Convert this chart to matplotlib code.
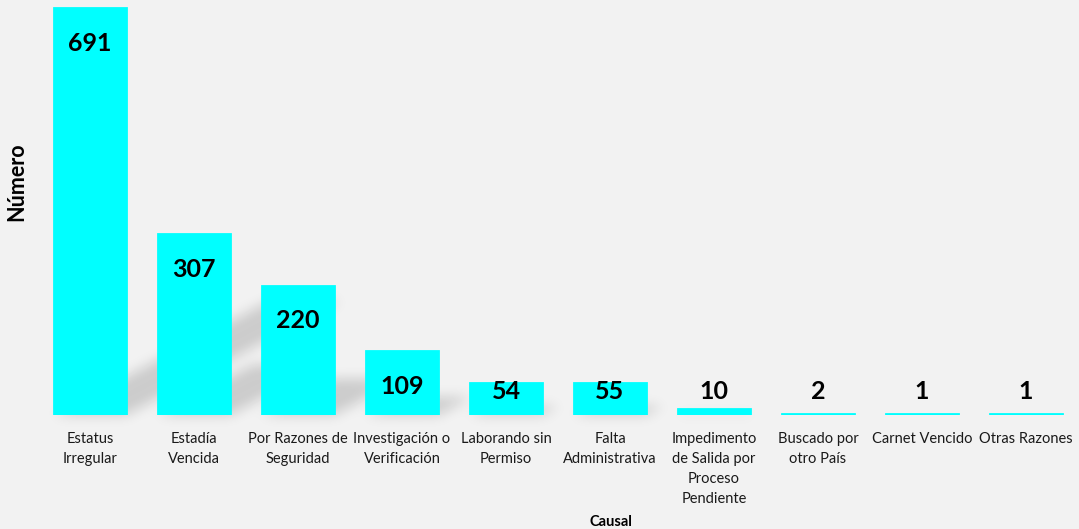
import numpy as np
import matplotlib
matplotlib.use("Agg")
import matplotlib.pyplot as plt
from matplotlib.collections import PolyCollection

plt.rcParams['font.family'] = ['Lato', 'DejaVu Sans']

categorias = ["Estatus\nIrregular", "Estadía\nVencida", "Por Razones de\nSeguridad",
              "Investigación o\nVerificación", "Laborando sin\nPermiso",
              "Falta\nAdministrativa", "Impedimento\nde Salida por\nProceso\nPendiente",
              "Buscado por\notro País", "Carnet Vencido", "Otras Razones"]
valores = [691, 307, 220, 109, 54, 55, 10, 2, 1, 1]

bg = '#F2F2F2'
cyan = '#00FFFF'


def blur_shadow(img, dpi):
  # gaussian blur on the alpha channel, drawn as a soft grey shadow
  sigma = 4.5
  r = int(3 * sigma)
  pad = r + 2
  h, w, _ = img.shape
  a = np.zeros((h + 2 * pad, w + 2 * pad))
  a[pad:pad + h, pad:pad + w] = img[..., 3]
  x = np.arange(-r, r + 1)
  k = np.exp(-x ** 2 / (2 * sigma ** 2))
  k /= k.sum()
  a = np.apply_along_axis(lambda m: np.convolve(m, k, mode='same'), 0, a)
  a = np.apply_along_axis(lambda m: np.convolve(m, k, mode='same'), 1, a)
  out = np.zeros((h + 2 * pad, w + 2 * pad, 4))
  out[..., 3] = np.clip(a, 0, 1) * 0.4
  return out, -pad, -pad


fig = plt.figure(figsize=(10.79, 5.29), dpi=100)
fig.patch.set_facecolor(bg)
ax = fig.add_axes([38 / 1079, 114 / 529, 1040 / 1079, 412 / 529])
ax.set_facecolor(bg)

xpos = np.arange(len(valores))
ancho = 0.695
ax.set_xlim(-0.5, len(valores) - 0.5)
ax.set_ylim(0, 700)

# perspective shadows (diagonal upper right)
p0 = ax.transData.transform((0, 0))
p1 = ax.transData.transform((1, 1))
sx, sy = p1[0] - p0[0], p1[1] - p0[1]
polys = []
for x, v in zip(xpos, valores):
  top = 0.28 * v
  dx = (top * sy / 0.53) / sx
  polys.append([(x - ancho / 2, 0), (x + ancho / 2, 0),
                (x + ancho / 2 + dx, top), (x - ancho / 2 + dx, top)])
sombra = PolyCollection(polys, facecolors='black', edgecolors='none', zorder=1)
sombra.set_agg_filter(blur_shadow)
ax.add_collection(sombra)

ax.bar(xpos, valores, width=ancho, color=cyan, edgecolor=cyan, linewidth=2, zorder=2)

for x, v in zip(xpos, valores):
  ax.text(x, max(v - 60, 40), str(v), ha='center', va='center',
          fontsize=18, fontweight='bold', color='black', zorder=3)

ax.set_xticks(xpos)
ax.set_xticklabels(categorias, fontsize=10.5, color='#1a1a1a', linespacing=1.55)
ax.set_yticks([])
ax.tick_params(axis='x', length=0, pad=12)
for s in ['top', 'bottom', 'left', 'right']:
  ax.spines[s].set_visible(False)

fig.text(17 / 1079, 1 - 182 / 529, 'Número', rotation=90, ha='center', va='center',
         fontsize=15.5, fontweight='bold', color='black')
fig.text(611 / 1079, 3 / 529, 'Causal', ha='center', va='baseline',
         fontsize=10.5, fontweight='bold', color='black')

fig.savefig('out.png', dpi=100, facecolor=bg)
